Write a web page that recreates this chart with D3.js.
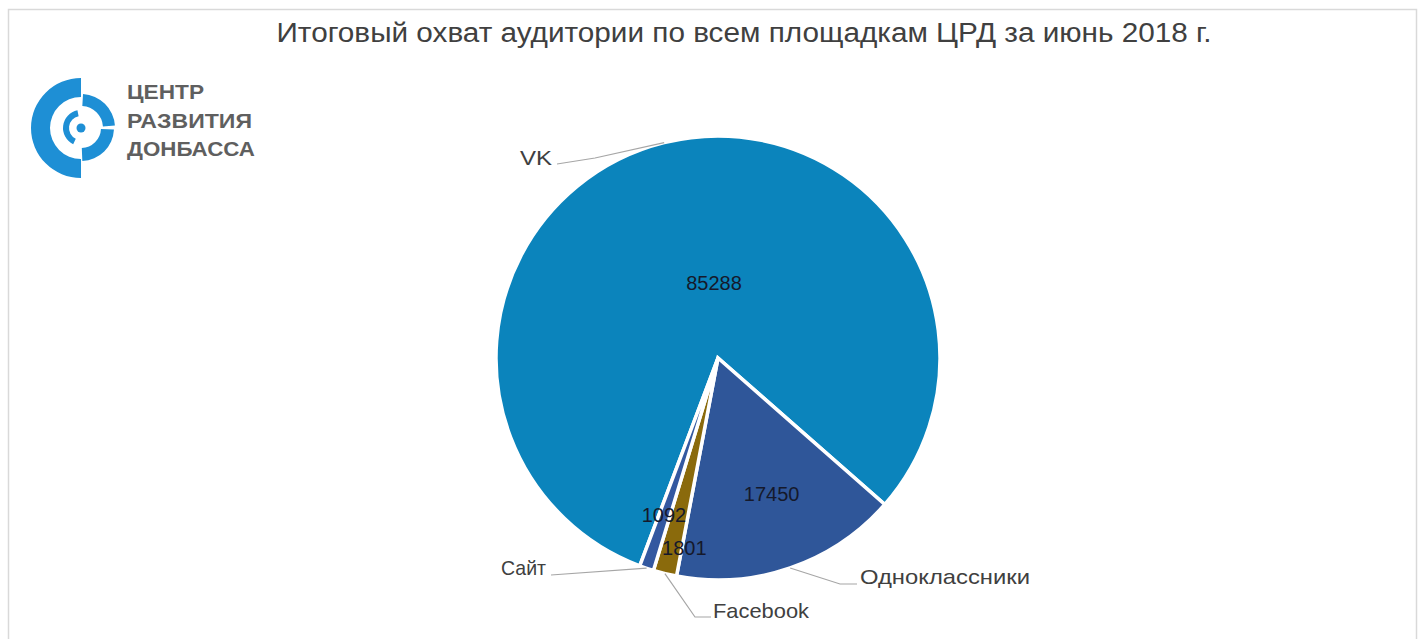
<!DOCTYPE html>
<html><head><meta charset="utf-8">
<script src="https://cdn.jsdelivr.net/npm/d3@7"></script>
<style>html,body{margin:0;padding:0;background:#fff;overflow:hidden}</style>
</head><body><svg id="c" width="1421" height="639"></svg>
<script>
// ---- data ----
const categories = ["VK", "Одноклассники", "Facebook", "Сайт"];
const values = [85288, 17450, 1801, 1092];
const colors = ["#0B84BC", "#2F5699", "#8A6A0C", "#3358A0"];
const title = "Итоговый охват аудитории по всем площадкам ЦРД за июнь 2018 г.";
const logoLines = ["ЦЕНТР", "РАЗВИТИЯ", "ДОНБАССА"];

// ---- layout config ----
const W = 1421, H = 639;
const cx = 718, cy = 358, R = 222;
const deg = Math.PI / 180;
const startDeg = 200.63;
// inside label placement: [angle shift (deg), radius fraction]
const insideLbl = [[11, 0.34], [-2.5, 0.66], [-3.8, 0.87], [0.2, 0.75]];
// outer label placement: text anchor point + elbow
const outerLbl = [
  {tx: 552, ty: 165, anchor: "end", len: 32, pts: [[595, 158], [557, 164]]},
  {tx: 860, ty: 584, anchor: "start", len: 170, pts: [[840, 584], [857, 584]]},
  {tx: 713, ty: 618, anchor: "start", len: 96, pts: [[695, 617], [711, 617]]},
  {tx: 546, ty: 575, anchor: "end", len: 45, pts: [[551, 575]]}
];

const svg = d3.select("#c");
svg.append("rect").attr("x", 8.5).attr("y", 9.5).attr("width", 1408).attr("height", 640)
  .attr("fill", "#fff").attr("stroke", "#d9d9d9").attr("stroke-width", 1.5);

// title
svg.append("text").attr("x", 744).attr("y", 42).attr("text-anchor", "middle")
  .attr("font-family", "'Liberation Sans',Arial,sans-serif")
  .attr("font-size", 27).attr("fill", "#404040")
  .attr("textLength", 935).attr("lengthAdjust", "spacingAndGlyphs")
  .text(title);

// logo
const logo = svg.append("g").attr("transform", "translate(81,128)").attr("fill", "#1E8FD5");
const la = d3.arc();
const logoArcs = [
  {innerRadius: 31, outerRadius: 50, startAngle: Math.PI, endAngle: 2 * Math.PI},
  {innerRadius: 22, outerRadius: 34, startAngle: 0.06, endAngle: 1.5},
  {innerRadius: 20, outerRadius: 33, startAngle: 1.62, endAngle: Math.PI - 0.04},
  {innerRadius: 12, outerRadius: 18, startAngle: Math.PI + 0.45, endAngle: 2 * Math.PI - 0.2}
];
logoArcs.forEach(a => logo.append("path").attr("d", la(a)));
logo.append("circle").attr("r", 4.5);
svg.append("g").selectAll("text").data(logoLines).join("text")
  .attr("x", 127).attr("y", (d, i) => [99, 128, 156][i])
  .attr("font-family", "'Liberation Sans',Arial,sans-serif").attr("font-weight", "bold")
  .attr("font-size", 20).attr("fill", "#5f5f5f")
  .attr("textLength", (d, i) => [77, 125, 128][i]).attr("lengthAdjust", "spacingAndGlyphs")
  .text(d => d);

// pie
const pie = d3.pie().sort(null).value(d => d)
  .startAngle(startDeg * deg).endAngle(startDeg * deg + 2 * Math.PI);
const arcs = pie(values);
const arc = d3.arc().innerRadius(0).outerRadius(R);
const g = svg.append("g").attr("transform", `translate(${cx},${cy})`);
g.selectAll("path").data(arcs).join("path")
  .attr("d", arc).attr("fill", (d, i) => colors[i])
  .attr("stroke", "#fff").attr("stroke-width", 3.5).attr("stroke-linejoin", "miter");

const polar = (a, r) => [Math.sin(a) * r, -Math.cos(a) * r];

// inside labels
g.selectAll("text.val").data(arcs).join("text").attr("class", "val")
  .each(function (d, i) {
    const mid = (d.startAngle + d.endAngle) / 2 + insideLbl[i][0] * deg;
    const [x, y] = polar(mid, R * insideLbl[i][1]);
    d3.select(this).attr("x", x).attr("y", y).attr("dy", "0.35em");
  })
  .attr("text-anchor", "middle")
  .attr("font-family", "'Liberation Sans',Arial,sans-serif").attr("font-size", 20)
  .attr("fill", "#15192b")
  .text(d => d.data);

// outer labels with leader lines
const line = d3.line();
arcs.forEach((d, i) => {
  const mid = (d.startAngle + d.endAngle) / 2;
  const [sx, sy] = polar(mid, R);
  const o = outerLbl[i];
  const pts = [[cx + sx, cy + sy]].concat(o.pts);
  svg.append("path").attr("d", line(pts)).attr("fill", "none")
    .attr("stroke", "#a6a6a6").attr("stroke-width", 1.2);
  svg.append("text").attr("x", o.tx).attr("y", o.ty).attr("text-anchor", o.anchor)
    .attr("font-family", "'Liberation Sans',Arial,sans-serif").attr("font-size", 21)
    .attr("fill", "#404040")
    .attr("textLength", o.len).attr("lengthAdjust", "spacingAndGlyphs")
    .text(categories[i]);
});
</script></body></html>
